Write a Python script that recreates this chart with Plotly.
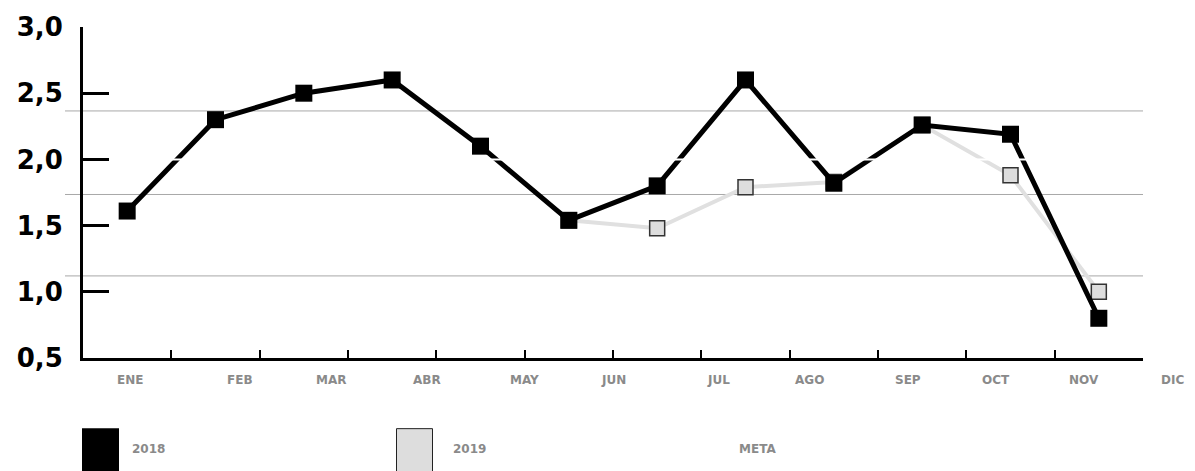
import plotly.graph_objects as go

# ---- data ----
months = ["ENE", "FEB", "MAR", "ABR", "MAY", "JUN", "JUL", "AGO", "SEP", "OCT", "NOV", "DIC"]
serie_2018 = [1.61, 2.30, 2.50, 2.60, 2.10, 1.54, 1.80, 2.60, 1.82, 2.26, 2.19, 0.80]
serie_2019 = [None, None, None, None, None, 1.54, 1.48, 1.79, 1.83, 2.26, 1.88, 1.00]
meta = [2.0] * 12
y_ticks = [0.5, 1.0, 1.5, 2.0, 2.5, 3.0]
legend_names = ["2018", "2019", "META"]

# ---- layout helpers (pixel geometry of the reference) ----
W, H = 1195, 471
L, R, T, B = 83, 52, 23, 113
PW, PH = W - L - R, H - T - B


def px(x):
    return (x - L) / PW


def py(y):
    return (H - B - y) / PH


idx = list(range(len(months)))
label_px = [130, 240, 331, 427, 524, 613, 718, 809, 908, 996, 1084, 1172]

fig = go.Figure()

fig.add_trace(go.Scatter(
    x=idx, y=serie_2019, mode="lines+markers", name=legend_names[1],
    line=dict(color="#e0e0e0", width=4),
    marker=dict(symbol="square", size=15, color="#dddddd",
                line=dict(color="#333333", width=1.5)),
    showlegend=False,
))
fig.add_trace(go.Scatter(
    x=idx, y=serie_2018, mode="lines+markers", name=legend_names[0],
    line=dict(color="#000000", width=5),
    marker=dict(symbol="square", size=17, color="#000000"),
    showlegend=False,
))
fig.add_trace(go.Scatter(
    x=idx, y=meta, mode="lines", name=legend_names[2],
    line=dict(color="#ffffff", width=2),
    showlegend=False,
))

shapes = []
# light grey horizontal guide lines
for gy in [2.366, 1.735, 1.120]:
    shapes.append(dict(type="line", xref="paper", yref="y",
                       x0=px(65), x1=px(1143), y0=gy, y1=gy,
                       line=dict(color="#a8a8a8", width=1), layer="below"))

# legend swatches
shapes.append(dict(type="rect", xref="paper", yref="paper",
                   x0=px(82), x1=px(119), y0=py(429), y1=py(480),
                   fillcolor="#000000", line=dict(color="#000000", width=0)))
shapes.append(dict(type="rect", xref="paper", yref="paper",
                   x0=px(396.5), x1=px(432.5), y0=py(429.5), y1=py(480),
                   fillcolor="#dddddd", line=dict(color="#222222", width=1)))

annotations = []
for m, lx in zip(months, label_px):
    annotations.append(dict(x=px(lx), xref="paper", y=py(380), yref="paper",
                            text=m, showarrow=False, xanchor="center", yanchor="middle",
                            font=dict(family="DejaVu Sans", size=12, color="#8a8a8a",
                                      weight="bold")))

legend_text_px = [130, 451, 737]
for name, lx in zip(legend_names, legend_text_px):
    annotations.append(dict(x=px(lx), xref="paper", y=py(450), yref="paper",
                            text=name, showarrow=False, xanchor="left", yanchor="middle",
                            font=dict(family="DejaVu Sans", size=12, color="#8a8a8a",
                                      weight="bold")))

fig.update_layout(
    width=W, height=H,
    margin=dict(l=L, r=R, t=T, b=B),
    paper_bgcolor="white", plot_bgcolor="white",
    separators=",.",
    shapes=shapes,
    annotations=annotations,
    showlegend=False,
    font=dict(family="DejaVu Sans"),
)
fig.update_xaxes(
    range=[-0.5, len(months) - 0.5],
    tickmode="array", tickvals=[i + 0.5 for i in idx],
    showticklabels=False,
    ticks="inside", ticklen=8, tickwidth=2, tickcolor="#000000",
    showline=True, linecolor="#000000", linewidth=3,
    showgrid=False, zeroline=False,
)
fig.update_yaxes(
    range=[0.5, 3.0],
    tickmode="array", tickvals=y_ticks, tickformat=".1f",
    ticks="inside", ticklen=26, tickwidth=2.5, tickcolor="#000000",
    showline=True, linecolor="#000000", linewidth=3,
    showgrid=False, zeroline=False,
    tickfont=dict(family="DejaVu Sans", size=26, color="#000000", weight="bold"),
    ticklabelstandoff=12,
)

fig.write_html("out.html")
